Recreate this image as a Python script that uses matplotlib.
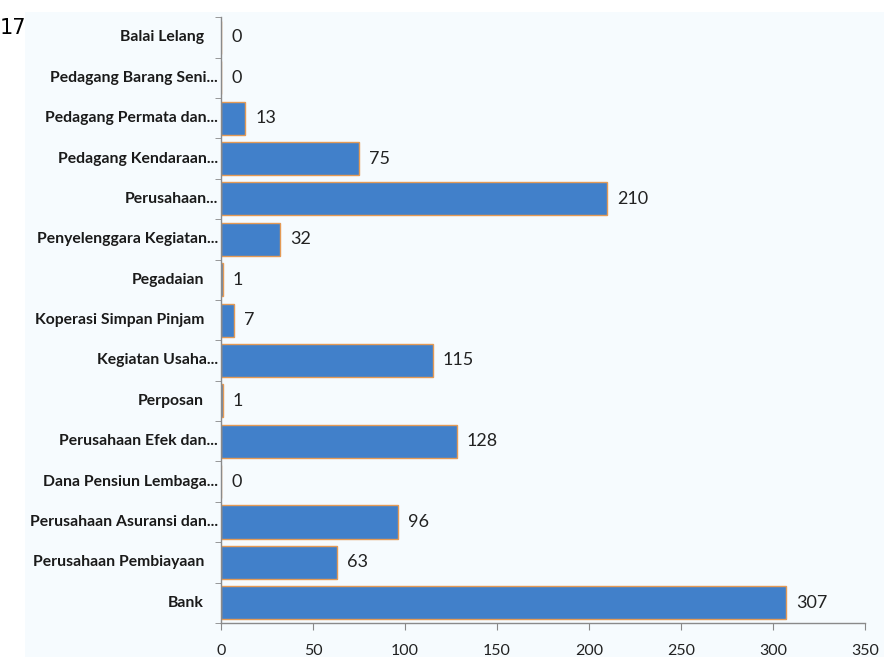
import numpy as np
import matplotlib.pyplot as plt
from matplotlib.patches import Rectangle
from matplotlib.transforms import ScaledTranslation, blended_transform_factory

cat_font = 'Lato'

labels = ['Bank', 'Perusahaan Pembiayaan', 'Perusahaan Asuransi dan...',
          'Dana Pensiun Lembaga...', 'Perusahaan Efek dan...', 'Perposan',
          'Kegiatan Usaha...', 'Koperasi Simpan Pinjam', 'Pegadaian',
          'Penyelenggara Kegiatan...', 'Perusahaan...', 'Pedagang Kendaraan...',
          'Pedagang Permata dan...', 'Pedagang Barang Seni...', 'Balai Lelang']
values = [307, 63, 96, 0, 128, 1, 115, 7, 1, 32, 210, 75, 13, 0, 0]
xticks = [0, 50, 100, 150, 200, 250, 300, 350]

fig = plt.figure(figsize=(8.84, 6.57), dpi=100, facecolor='#f6fbfe')
# white strip on the left/top edge
fig.patches.append(Rectangle((0, 0), 0.028, 1, transform=fig.transFigure,
                             facecolor='white', edgecolor='none', zorder=0))
fig.patches.append(Rectangle((0, 0.982), 1, 0.018, transform=fig.transFigure,
                             facecolor='white', edgecolor='none', zorder=0))
fig.text(0.0, 0.958, '17', fontsize=15, color='black', ha='left', va='center')

ax = fig.add_axes([0.250, 0.0518, 0.7285, 0.922])
ax.set_facecolor('none')

y = np.arange(len(labels))
bars = ax.barh(y, values, height=0.82, color='#4180ca', edgecolor='#e49a55', linewidth=1)

for yi, v in zip(y, values):
    ax.text(v + 5.5, yi, str(v), va='center', ha='left', fontsize=13,
            color='#222222', family=cat_font)

# category names: shortened ones sit closer to the axis
trans = blended_transform_factory(ax.transAxes, ax.transData)
for yi, lab in zip(y, labels):
    gap = 3 if lab.endswith('...') else 17
    t = trans + ScaledTranslation(-gap / 100, 0, fig.dpi_scale_trans)
    ax.text(0, yi, lab, transform=t, ha='right', va='center', fontsize=11.3,
            color='#1a1a1a', family=cat_font, fontweight='bold')

ax.set_xlim(0, 350)
ax.set_ylim(-0.5, len(labels) - 0.5)
ax.set_xticks(xticks)
ax.set_xticklabels([str(t) for t in xticks], fontsize=11.5, color='#222222', family=cat_font)
ax.set_yticks([])
ax.set_yticks(np.arange(-0.5, len(labels)), minor=True)
ax.tick_params(axis='y', which='minor', length=4, color='#888888')
ax.tick_params(axis='x', length=5, color='#888888', pad=10)

for s in ['top', 'right']:
    ax.spines[s].set_visible(False)
for s in ['left', 'bottom']:
    ax.spines[s].set_color('#8a8a8a')
    ax.spines[s].set_linewidth(1)

fig.savefig('out.png', dpi=100, facecolor=fig.get_facecolor())
